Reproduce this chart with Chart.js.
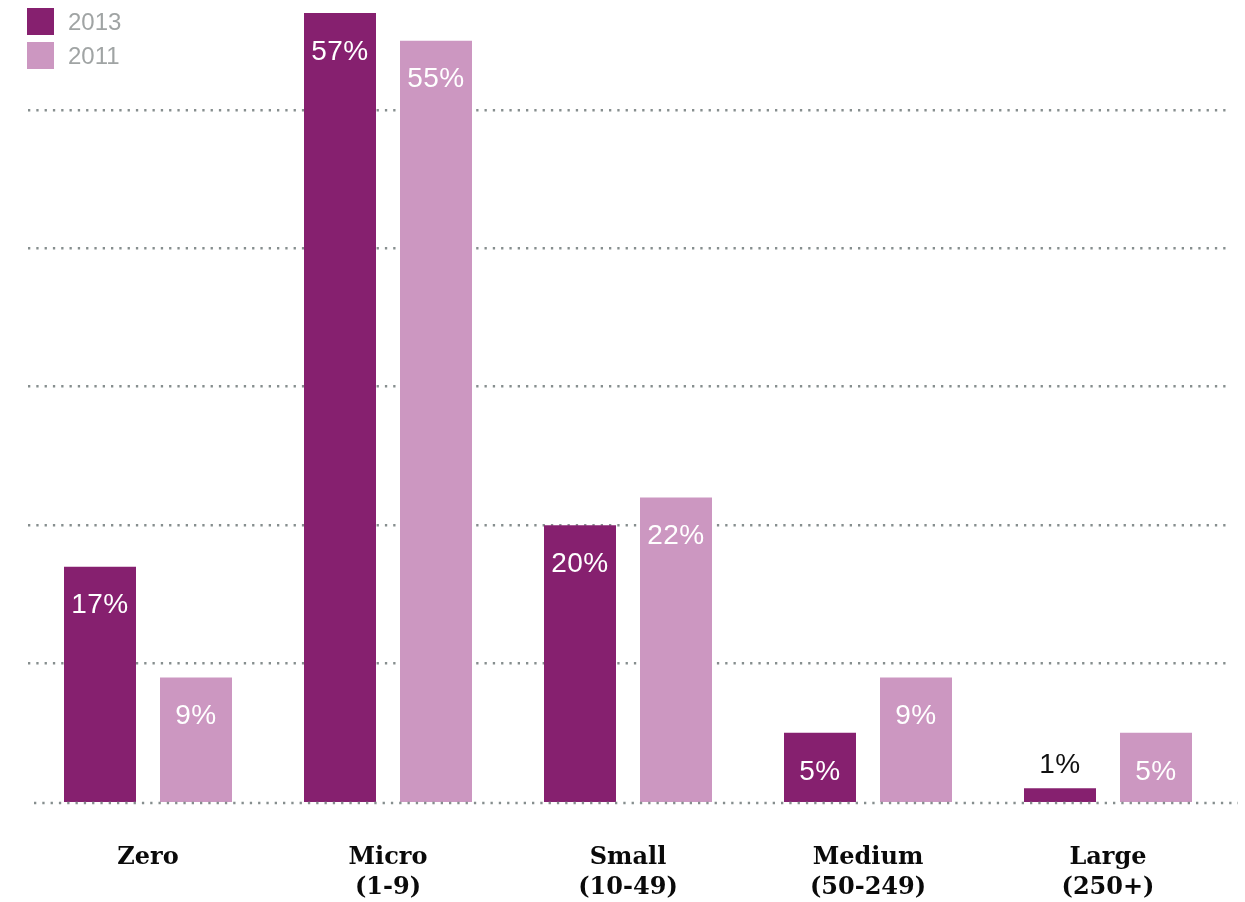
<!DOCTYPE html>
<html>
<head>
<meta charset="utf-8">
<script src="https://cdn.jsdelivr.net/npm/chart.js@4.4.1/dist/chart.umd.min.js"></script>
<style>
  html, body { margin: 0; padding: 0; background: #fff; }
  #wrap { position: relative; width: 1245px; height: 902px; }
</style>
</head>
<body>
<div id="wrap"><canvas id="chart" width="1245" height="902"></canvas></div>
<script>
// firm size groups
const categories = [["Zero"], ["Micro", "(1-9)"], ["Small", "(10-49)"], ["Medium", "(50-249)"], ["Large", "(250+)"]];
const years = ["2013", "2011"];
const values2013 = [17, 57, 20, 5, 1];
const values2011 = [9, 55, 22, 9, 5];
const gridTicks = [10, 20, 30, 40, 50];

const colors = { y2013: "#86206f", y2011: "#cc97c1", grid: "#868e8e", legendText: "#a0a4a4" };

// white value labels inside the bars, dark above when the bar is too short
const valueLabels = {
  id: "valueLabels",
  afterDatasetsDraw(chart) {
    const ctx = chart.ctx;
    ctx.save();
    ctx.font = "28px 'Liberation Sans', Arial, sans-serif";
    ctx.letterSpacing = "0.5px";
    ctx.textAlign = "center";
    ctx.textBaseline = "middle";
    chart.data.datasets.forEach((ds, di) => {
      chart.getDatasetMeta(di).data.forEach((bar, i) => {
        const v = ds.data[i];
        const h = bar.base - bar.y;
        if (h > 50) {
          ctx.fillStyle = "#ffffff";
          ctx.fillText(v + "%", bar.x, bar.y + 39);
        } else {
          ctx.fillStyle = "#111111";
          ctx.fillText(v + "%", bar.x, bar.y - 23);
        }
      });
    });
    ctx.restore();
  }
};

// dotted baseline drawn over the bar bottoms
const baseline = {
  id: "baseline",
  afterDatasetsDraw(chart) {
    const ctx = chart.ctx;
    const y = chart.scales.y.getPixelForValue(0) + 1;
    ctx.save();
    ctx.strokeStyle = colors.grid;
    ctx.lineWidth = 2.5;
    ctx.setLineDash([2.3, 6]);
    ctx.beginPath();
    ctx.moveTo(34, y);
    ctx.lineTo(1238, y);
    ctx.stroke();
    ctx.restore();
  }
};

// legend squares in the top-left corner
const cornerLegend = {
  id: "cornerLegend",
  afterDraw(chart) {
    const ctx = chart.ctx;
    ctx.save();
    ctx.font = "24px 'Liberation Sans', Arial, sans-serif";
    ctx.textBaseline = "middle";
    chart.data.datasets.forEach((ds, i) => {
      const y = 8 + i * 34;
      ctx.fillStyle = ds.backgroundColor;
      ctx.fillRect(27, y, 27, 27);
      ctx.fillStyle = colors.legendText;
      ctx.fillText(ds.label, 68, y + 15);
    });
    ctx.restore();
  }
};

new Chart(document.getElementById("chart"), {
  type: "bar",
  data: {
    labels: categories,
    datasets: [
      { label: years[0], data: values2013, backgroundColor: colors.y2013 },
      { label: years[1], data: values2011, backgroundColor: colors.y2011 }
    ]
  },
  options: {
    responsive: false,
    animation: false,
    layout: { padding: { top: 13, left: 28, right: 17, bottom: 0 } },
    datasets: { bar: { categoryPercentage: 0.8, barPercentage: 0.75 } },
    plugins: { legend: { display: false }, tooltip: { enabled: false } },
    scales: {
      x: {
        grid: { display: false },
        border: { display: false },
        ticks: {
          color: "#0a0a0a",
          padding: 33,
          font: { family: "'DejaVu Serif', serif", weight: "bold", size: 24, lineHeight: 1.25 }
        },
        afterFit(scale) { scale.height = 100; }
      },
      y: {
        min: 0,
        max: 57,
        afterBuildTicks(scale) { scale.ticks = gridTicks.map(v => ({ value: v })); },
        ticks: { display: false },
        grid: { color: colors.grid, lineWidth: 2.5, drawTicks: false },
        border: { display: false, dash: [2.3, 6] },
        afterFit(scale) { scale.width = 0; }
      }
    }
  },
  plugins: [valueLabels, baseline, cornerLegend]
});
</script>
</body>
</html>
